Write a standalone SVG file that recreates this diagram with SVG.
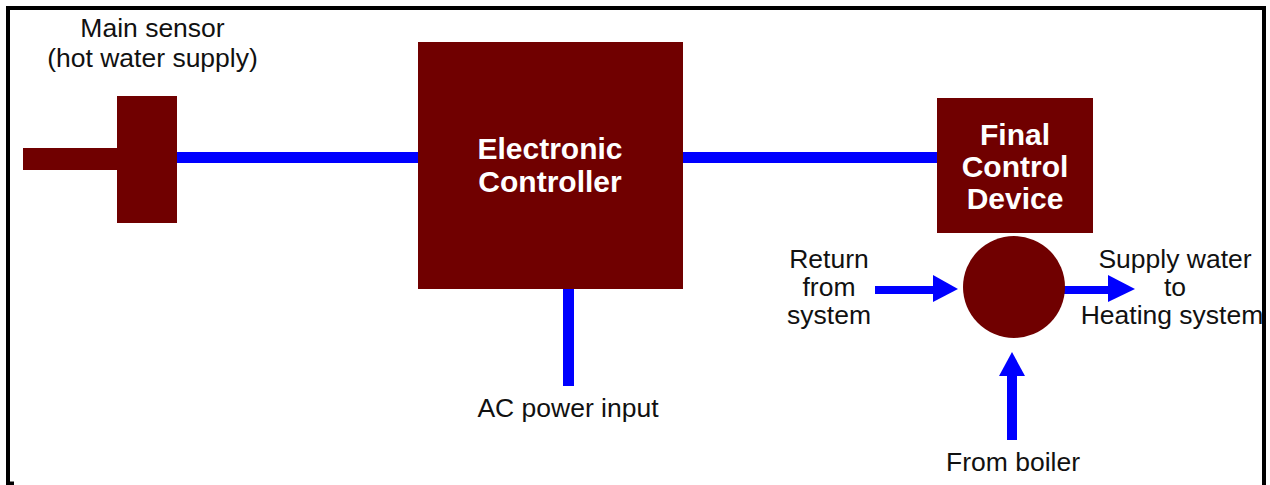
<svg xmlns="http://www.w3.org/2000/svg" width="1270" height="485" viewBox="0 0 1270 485">
<style>
.box{fill:#700000}
.wire{stroke:#0000ff;stroke-width:11;fill:none}
.flow{stroke:#0000ff;stroke-width:8;fill:none}
.head{fill:#0000ff}
.lbl{font-family:"Liberation Sans",Arial,sans-serif;font-size:26.5px;fill:#111;text-anchor:middle}
.in{font-family:"Liberation Sans",Arial,sans-serif;font-size:30px;font-weight:bold;fill:#fff;text-anchor:middle}
</style>
<rect x="0" y="0" width="1270" height="485" fill="#fff"/>
<g id="frame" fill="none" stroke="#000" stroke-width="4">
<path d="M8 485 V8 H1264 V485"/>
<path d="M6 483.5 H14"/>
</g>
<g id="connectors">
<line class="wire" x1="177" y1="157.5" x2="418" y2="157.5"/>
<line class="wire" x1="683" y1="157.5" x2="937" y2="157.5"/>
<line class="wire" x1="568.5" y1="289" x2="568.5" y2="386"/>
<line class="flow" x1="875" y1="290" x2="935" y2="290"/>
<polygon class="head" points="933,275 958,289 933,302"/>
<line class="flow" x1="1064" y1="290" x2="1110" y2="290"/>
<polygon class="head" points="1108,275 1135,289 1108,302"/>
<line class="wire" x1="1012" y1="374" x2="1012" y2="440" style="stroke-width:10"/>
<polygon class="head" points="999,376 1012,352 1025,376"/>
</g>
<g id="sensor">
<rect class="box" x="23" y="148" width="96" height="22"/>
<rect class="box" x="117" y="96" width="60" height="127"/>
<text class="lbl" x="152.5" y="37">Main sensor</text>
<text class="lbl" x="152.5" y="67">(hot water supply)</text>
</g>
<g id="controller">
<rect class="box" x="418" y="42" width="265" height="247"/>
<text class="in" x="550" y="159">Electronic</text>
<text class="in" x="550" y="192">Controller</text>
</g>
<g id="final-control">
<rect class="box" x="937" y="98" width="156" height="135"/>
<text class="in" x="1015" y="145">Final</text>
<text class="in" x="1015" y="177">Control</text>
<text class="in" x="1015" y="209">Device</text>
</g>
<g id="valve">
<circle class="box" cx="1014" cy="287" r="51"/>
</g>
<g id="ac-power">
<text class="lbl" x="568" y="417">AC power input</text>
</g>
<g id="return">
<text class="lbl" x="829" y="268">Return</text>
<text class="lbl" x="829" y="296">from</text>
<text class="lbl" x="829" y="324">system</text>
</g>
<g id="supply">
<text class="lbl" x="1175" y="268">Supply water</text>
<text class="lbl" x="1175" y="296">to</text>
<text class="lbl" x="1172" y="324">Heating system</text>
</g>
<g id="boiler">
<text class="lbl" x="1013" y="471">From boiler</text>
</g>
</svg>
